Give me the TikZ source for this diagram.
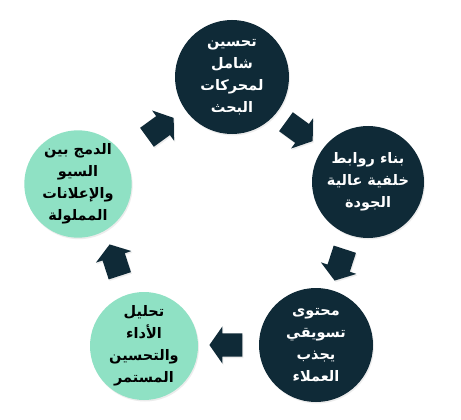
\documentclass[tikz,border=0pt]{standalone}
\usepackage{fontspec}
\TeXXeTstate=1
\newfontfamily\arabicfont[Script=Arabic]{DejaVu Sans}
\usetikzlibrary{shapes.arrows,shadows}
\definecolor{navy}{HTML}{0F2A37}
\definecolor{mint}{HTML}{8FE1C4}
\newcommand{\artxt}[1]{\beginR #1\endR}
\tikzset{
  stage/.style={circle, inner sep=0pt, align=center,
    font=\arabicfont\bfseries\fontsize{14.5}{22}\selectfont,
    drop shadow={opacity=0.15, shadow xshift=1pt, shadow yshift=-1.5pt}},
  darkstage/.style={stage, fill=navy, text=white},
  lightstage/.style={stage, fill=mint, text=black},
  flowarrow/.style={single arrow, fill=navy, draw=none, inner sep=0pt,
    text height=23pt, text depth=0pt, text width=0pt,
    minimum height=33pt,
    single arrow head extend=7pt, single arrow tip angle=110,
    drop shadow={opacity=0.15, shadow xshift=1pt, shadow yshift=-1.5pt}}
}
\begin{document}
\begin{tikzpicture}[x=1pt,y=-1pt]
\useasboundingbox (0,0) rectangle (461,420);
\fill[white] (0,0) rectangle (461,420);
% stages
\node[darkstage, minimum size=114pt] (s1) at (232,77)
  {\artxt{تحسين}\\\artxt{شامل}\\\artxt{لمحركات}\\\artxt{البحث}};
\node[darkstage, minimum size=112pt] (s2) at (368,182)
  {\artxt{بناء روابط}\\\artxt{خلفية عالية}\\\artxt{الجودة}};
\node[darkstage, minimum size=114pt] (s3) at (316,345)
  {\artxt{محتوى}\\\artxt{تسويقي}\\\artxt{يجذب}\\\artxt{العملاء}};
\node[lightstage, minimum size=108pt] (s4) at (144,346)
  {\artxt{تحليل}\\\artxt{الأداء}\\\artxt{والتحسين}\\\artxt{المستمر}};
\node[lightstage, minimum size=105pt] (s5) at (78,184)
  {\artxt{الدمج بين}\\\artxt{السيو}\\\artxt{والإعلانات}\\\artxt{المملولة}};
% arrows
\node[flowarrow, rotate=-36] (a1) at (296,129) {};
\node[flowarrow, rotate=-108] (a2) at (341,261) {};
\node[flowarrow, rotate=180] (a3) at (230,345) {};
\node[flowarrow, rotate=108] (a4) at (116,264) {};
\node[flowarrow, rotate=36] (a5) at (157,130) {};
\end{tikzpicture}
\end{document}
